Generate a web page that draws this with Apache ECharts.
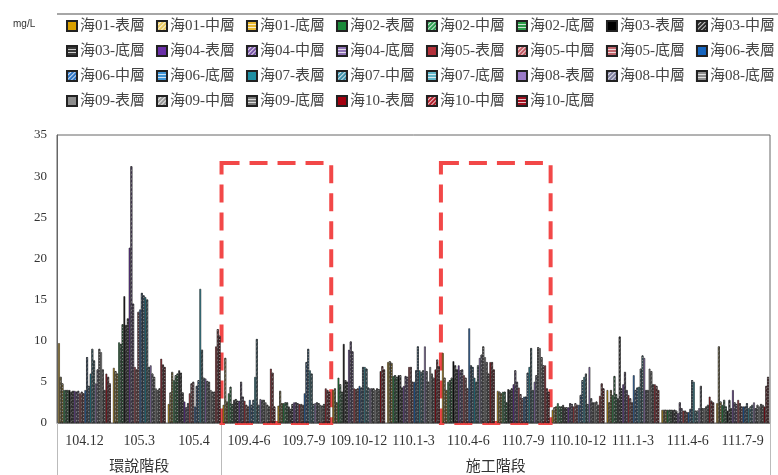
<!DOCTYPE html>
<html>
<head>
<meta charset="utf-8">
<script src="https://cdn.jsdelivr.net/npm/echarts@6/dist/echarts.min.js"></script>
</head>
<body style="margin:0">
<div id="main" style="width:778px;height:475px"></div>
<script>
// sampling periods and phases
var categories = ['104.12','105.3','105.4','109.4-6','109.7-9','109.10-12','110.1-3','110.4-6','110.7-9','110.10-12','111.1-3','111.4-6','111.7-9'];
var phases = ['環說階段','施工階段'];
var phaseSpans = [3, 10];
var stations = ['海01','海02','海03','海04','海05','海06','海07','海08','海09','海10'];
var layers = ['表層','中層','底層'];

// values per period, order: 海01 表/中/底, 海02 表/中/底 ... 海10
var d104_12   = [9.7,5.6,4.8, 4.0,4.0,4.0, 4.0,3.8,3.9, 3.9,3.8,3.9, 3.6,3.8,3.6, 4.0,8.0,4.5, 6.0,9.0,7.6, 4.8,6.5,9.0, 8.6,6.5,4.0, 6.0,5.6,4.8];
var d105_3    = [6.7,6.3,6.0, 9.8,9.6,12.0, 15.4,11.9,12.7, 21.3,31.2,14.5, 6.8,6.5,13.5, 13.8,15.8,15.5, 15.3,15.0,6.8, 7.0,6.0,5.6, 4.2,4.0,4.2, 7.8,7.1,6.8];
var d105_4    = [2.3,3.7,6.2, 5.2,5.8,6.0, 6.4,6.1,3.7, 2.6,1.9,2.4, 3.6,4.8,5.0, 2.0,4.5,5.2, 16.3,8.9,5.5, 5.4,5.1,5.0, 4.0,3.8,3.8, 9.3,11.4,10.6];
var d109_4_6  = [2.2,7.9,2.6, 3.6,4.4,2.3, 2.8,2.9,2.7, 2.7,5.0,3.2, 2.7,2.2,2.0, 2.8,2.2,2.8, 5.6,10.2,2.2, 2.9,2.8,2.8, 2.5,2.2,2.0, 6.6,6.1,2.0];
var d109_7_9  = [2.1,3.9,2.4, 2.4,2.5,2.5, 2.0,1.7,2.3, 2.5,2.5,2.4, 2.3,2.3,2.2, 3.6,7.4,9.0, 6.4,6.0,2.3, 2.4,2.5,2.4, 2.2,2.1,2.3, 4.2,4.0,3.8];
var d109_10_12 = [4.0,4.2,2.5, 5.5,4.7,3.8, 9.6,5.2,5.0, 8.9,9.9,8.7, 4.2,4.1,4.2, 4.5,4.3,6.8, 6.8,6.6,4.3, 4.2,4.2,4.2, 4.0,4.2,4.1, 6.3,6.9,6.5];
var d110_1_3  = [7.4,7.5,7.3, 5.7,5.8,5.6, 5.8,5.8,4.3, 4.5,5.7,5.6, 6.8,6.8,5.0, 5.0,6.4,9.3, 6.4,6.2,6.4, 9.3,6.3,5.0, 6.8,6.0,5.5, 6.5,7.7,6.9];
var d110_4_6  = [8.5,5.5,4.0, 5.0,5.2,5.5, 7.5,7.0,6.5, 7.0,6.4,6.5, 5.8,5.5,4.2, 11.5,7.0,6.8, 5.5,5.0,7.0, 7.9,8.3,9.3, 8.0,7.4,6.0, 7.4,7.4,6.5];
var d110_7_9  = [3.9,3.8,3.6, 3.8,3.8,2.5, 4.1,4.0,4.2, 4.7,6.4,5.0, 4.3,3.5,3.0, 3.2,3.2,6.1, 6.8,9.1,4.0, 5.0,5.8,9.2, 9.1,8.0,7.0, 7.0,4.2,3.8];
var d110_10_12 = [1.6,1.9,2.0, 2.4,2.0,2.0, 2.2,1.9,1.9, 1.9,2.4,2.3, 2.0,2.4,2.2, 2.2,3.4,5.2, 5.6,6.0,2.3, 6.8,3.0,2.5, 2.5,2.6,2.2, 3.3,4.8,4.2];
var d111_1_3  = [4.0,2.5,4.0, 3.4,5.7,3.5, 3.0,10.5,4.2, 4.7,6.2,4.0, 3.4,3.0,2.5, 5.8,4.0,4.3, 4.4,6.6,8.2, 7.9,4.0,4.0, 6.6,6.3,4.7, 4.7,4.5,4.0];
var d111_4_6  = [1.6,1.6,1.6, 1.6,1.6,1.6, 1.6,1.6,1.5, 1.2,2.5,1.8, 1.5,1.5,1.3, 1.3,1.7,5.2, 5.0,1.5,1.5, 1.8,4.5,1.8, 1.8,2.0,2.2, 3.2,2.7,2.5];
var d111_7_9  = [2.4,9.3,2.6, 2.2,2.8,2.0, 1.5,2.8,1.8, 4.0,2.5,2.3, 2.8,2.4,2.0, 2.0,2.0,2.4, 1.8,2.0,2.2, 2.5,1.8,2.2, 2.0,2.3,2.2, 2.0,4.5,5.6];

var periods = [d104_12,d105_3,d105_4,d109_4_6,d109_7_9,d109_10_12,d110_1_3,d110_4_6,d110_7_9,d110_10_12,d111_1_3,d111_4_6,d111_7_9];

// red dashed boxes
var boxRanges = [['109.4-6','109.7-9'],['110.4-6','110.7-9']];
var boxTop = 31.6;

var colors = [
  '#D9A000','#E8C860','#E8B830',
  '#1B8A3A','#2E9E52','#2A9A48',
  '#000000','#2A2A2A','#3A3A3A',
  '#6A2FA8','#7B57A8','#8F72B5',
  '#B3303A','#C25A64','#C0646C',
  '#1565C0','#2C74C4','#3F93D3',
  '#1F8FA3','#3C8FA8','#5FB5C8',
  '#9B7BC8','#7F7F9F','#8E8E8E',
  '#8C8C8C','#999999','#7A7A7A',
  '#A3000F','#B0202C','#A01020'
];

var serif = '"Liberation Serif", "Noto Sans CJK TC", serif';

var decals = [
  null,
  {symbol:'rect', symbolSize:1, color:'rgba(255,255,255,0.75)', dashArrayX:[[1,0]], dashArrayY:[1,2], rotation:-Math.PI/4},
  {symbol:'rect', symbolSize:1, color:'rgba(255,255,255,0.75)', dashArrayX:[[1,0]], dashArrayY:[1,2], rotation:0}
];

var names = [];
var series = [];
stations.forEach(function (st, si) {
  layers.forEach(function (ly, li) {
    var k = si * 3 + li;
    var name = st + '-' + ly;
    names.push(name);
    var style = {color: colors[k], borderColor: '#222', borderWidth: 0.6};
    if (decals[li]) style.decal = decals[li];
    series.push({
      name: name,
      type: 'bar',
      barGap: '0%',
      barCategoryGap: '4%',
      itemStyle: style,
      data: periods.map(function (p) { return p[k]; })
    });
  });
});

// phase boundaries and label positions on the helper axis
var bounds = [0];
phaseSpans.forEach(function (s) { bounds.push(bounds[bounds.length - 1] + s); });
var centers = phases.map(function (p, i) { return (bounds[i] + bounds[i + 1]) / 2; });

series.push({
  name: 'box',
  type: 'line',
  xAxisIndex: 1,
  data: [],
  z: 10,
  markArea: {
    silent: true,
    itemStyle: {color: 'rgba(0,0,0,0)', borderColor: '#F24848', borderWidth: 4, borderType: [18, 10]},
    data: boxRanges.map(function (r) {
      return [{xAxis: categories.indexOf(r[0]), yAxis: boxTop}, {xAxis: categories.indexOf(r[1]) + 1, yAxis: 0}];
    })
  }
});

var chart = echarts.init(document.getElementById('main'));
chart.setOption({
  animation: false,
  title: {text: 'mg/L', left: 8, top: 14, textStyle: {fontSize: 10, fontWeight: 'normal', color: '#333', fontFamily: 'Arial'}},
  legend: {
    data: names,
    left: 61, top: 13, width: 717,
    itemWidth: 10, itemHeight: 10, itemGap: 9,
    icon: 'rect',
    textStyle: {fontFamily: serif, fontSize: 15, lineHeight: 16, color: '#444', padding: [0, 2, 0, -2]}
  },
  graphic: [{type: 'line', shape: {x1: 57, y1: 14, x2: 778, y2: 14}, style: {stroke: '#888', lineWidth: 1.5}}],
  grid: {left: 57, right: 8, top: 135, bottom: 52, show: true, borderColor: '#666', borderWidth: 1},
  xAxis: [{
    type: 'category',
    data: categories,
    axisLine: {lineStyle: {color: '#888'}},
    axisTick: {interval: 0, length: 28, lineStyle: {color: '#bbb'}},
    axisLabel: {interval: 0, margin: 11, fontFamily: serif, fontSize: 14, color: '#333'}
  }, {
    type: 'value',
    position: 'bottom',
    min: 0, max: bounds[bounds.length - 1],
    axisLine: {show: false},
    splitLine: {show: false},
    axisTick: {show: true, customValues: bounds, length: 52, lineStyle: {color: '#bbb'}},
    axisLabel: {
      customValues: centers, margin: 37, fontFamily: serif, fontSize: 15, color: '#333',
      formatter: function (v) { return phases[centers.indexOf(v)]; }
    }
  }],
  yAxis: {
    type: 'value',
    min: 0, max: 35, interval: 5,
    axisLine: {show: true, lineStyle: {color: '#666'}},
    axisTick: {show: false},
    splitLine: {show: false},
    axisLabel: {fontFamily: serif, fontSize: 13, color: '#333', margin: 10}
  },
  series: series
});
</script>
</body>
</html>
